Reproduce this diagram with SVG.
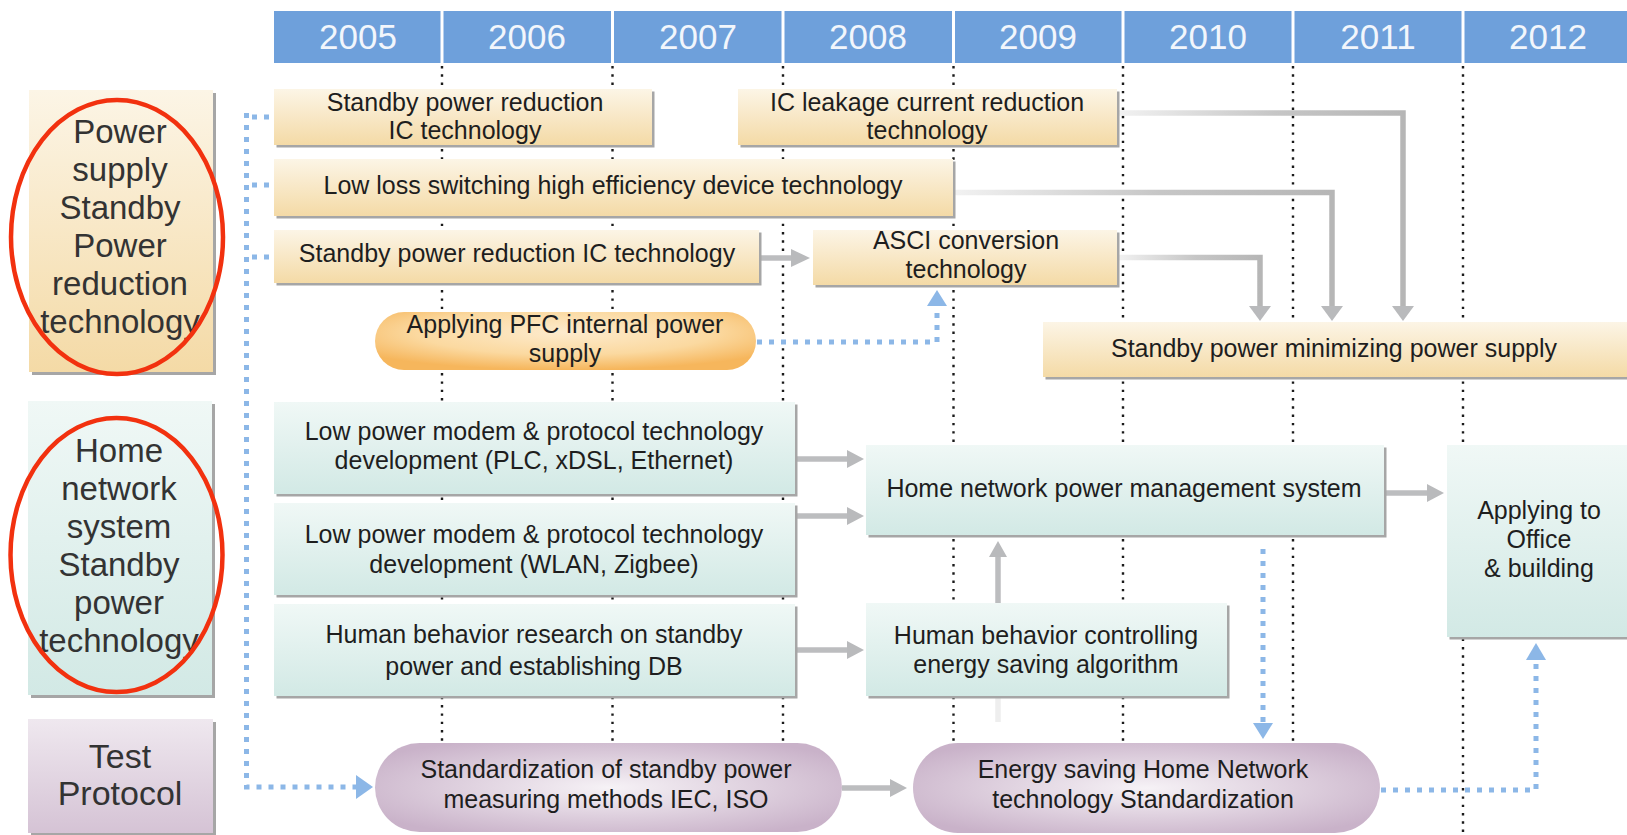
<svg xmlns="http://www.w3.org/2000/svg" width="1627" height="835" viewBox="0 0 1627 835">
<defs>
<linearGradient id="gCream" x1="0" y1="0" x2="0" y2="1"><stop offset="0" stop-color="#fcf5e6"/><stop offset="1" stop-color="#f4daa6"/></linearGradient>
<linearGradient id="gMint" x1="0" y1="0" x2="0" y2="1"><stop offset="0" stop-color="#f0f8f6"/><stop offset="1" stop-color="#d2e9e5"/></linearGradient>
<linearGradient id="gLav" x1="0" y1="0" x2="0" y2="1"><stop offset="0" stop-color="#efe8ef"/><stop offset="1" stop-color="#d5c3d5"/></linearGradient>
<radialGradient id="gPurple" cx="0.5" cy="0.5" r="0.6"><stop offset="0" stop-color="#f6f2f6"/><stop offset="1" stop-color="#c9b2c9"/></radialGradient>
<radialGradient id="gOrange" cx="0.5" cy="0.35" r="0.65"><stop offset="0" stop-color="#fdebcd"/><stop offset="0.6" stop-color="#fbd9a0"/><stop offset="1" stop-color="#f6b65c"/></radialGradient>
<linearGradient id="gFade" x1="0" y1="0" x2="1" y2="0"><stop offset="0" stop-color="#f2f2f2"/><stop offset="0.55" stop-color="#c6c6c6"/><stop offset="1" stop-color="#b6b6b6"/></linearGradient>
</defs>
<style>
.hdr{fill:#6ea0db}
.yr{font-family:"Liberation Sans",Arial,sans-serif;font-size:35px;fill:#f2f6fc;text-anchor:middle}
.vd{stroke:#1a1a1a;stroke-width:2.4;stroke-dasharray:2.4 5.9;fill:none}
.sh{fill:#a6a6a6}
.cream{fill:url(#gCream)}
.mint{fill:url(#gMint)}
.lav{fill:url(#gLav)}
.pur{fill:url(#gPurple)}
.org{fill:url(#gOrange)}
.t{font-family:"Liberation Sans",Arial,sans-serif;font-size:25px;fill:#1e1e1e;text-anchor:middle}
.cat{font-family:"Liberation Sans",Arial,sans-serif;font-size:33px;fill:#333;text-anchor:middle}
.ring{fill:none;stroke:#f2310f;stroke-width:4.5}
.ga{stroke:#bcbdbf;stroke-width:5.5;fill:none}
.gf{stroke:url(#gFade);stroke-width:5.5;fill:none}
.gh{fill:#b9babc}
.bd{stroke:#8cb7e7;stroke-width:5;stroke-dasharray:5 7;fill:none}
.bh{fill:#8cb7e7}
</style>
<rect width="1627" height="835" fill="#ffffff"/>
<g id="header">
<rect class="hdr" x="274" y="11" width="166.5" height="52"/>
<rect class="hdr" x="443.5" y="11" width="167.5" height="52"/>
<rect class="hdr" x="614" y="11" width="167.5" height="52"/>
<rect class="hdr" x="784.5" y="11" width="167.5" height="52"/>
<rect class="hdr" x="955" y="11" width="166.5" height="52"/>
<rect class="hdr" x="1124.5" y="11" width="167" height="52"/>
<rect class="hdr" x="1294.5" y="11" width="167" height="52"/>
<rect class="hdr" x="1464.5" y="11" width="163" height="52"/>
<text class="yr" x="358" y="49">2005</text>
<text class="yr" x="527" y="49">2006</text>
<text class="yr" x="698" y="49">2007</text>
<text class="yr" x="868" y="49">2008</text>
<text class="yr" x="1038" y="49">2009</text>
<text class="yr" x="1208" y="49">2010</text>
<text class="yr" x="1378" y="49">2011</text>
<text class="yr" x="1548" y="49">2012</text>
</g>
<g id="gridlines">
<path class="vd" d="M442,66V835M612.5,66V835M783,66V835M953.5,66V835M1123,66V835M1293,66V835M1463,66V835"/>
</g>
<g id="cat-power">
<rect class="sh" x="32" y="93" width="184" height="282"/>
<rect class="cream" x="29" y="90" width="184" height="282"/>
<text class="cat" x="120" y="143">Power</text>
<text class="cat" x="120" y="181">supply</text>
<text class="cat" x="120" y="219">Standby</text>
<text class="cat" x="120" y="257">Power</text>
<text class="cat" x="120" y="295">reduction</text>
<text class="cat" x="120" y="333">technology</text>
</g>
<g id="cat-home">
<rect class="sh" x="31" y="404" width="184" height="294"/>
<rect class="mint" x="28" y="401" width="184" height="294"/>
<text class="cat" x="119" y="462">Home</text>
<text class="cat" x="119" y="500">network</text>
<text class="cat" x="119" y="538">system</text>
<text class="cat" x="119" y="576">Standby</text>
<text class="cat" x="119" y="614">power</text>
<text class="cat" x="119" y="652">technology</text>
</g>
<g id="cat-test">
<rect class="sh" x="31" y="722" width="185" height="113"/>
<rect class="lav" x="28" y="719" width="185" height="114"/>
<text class="cat" x="120" y="768" style="font-size:34px">Test</text>
<text class="cat" x="120" y="805" style="font-size:34px">Protocol</text>
</g>
<g id="rings">
<ellipse class="ring" cx="117" cy="237" rx="106" ry="137"/>
<ellipse class="ring" cx="116.5" cy="555" rx="106" ry="137"/>
</g>
<g id="connectors">
<path class="gf" d="M1117,113H1403V307"/>
<polygon class="gh" points="1392,306 1414,306 1403,321"/>
<path class="gf" d="M953,192.5H1332V307"/>
<polygon class="gh" points="1321,306 1343,306 1332,321"/>
<path class="gf" d="M1117,257.5H1260V307"/>
<polygon class="gh" points="1249,306 1271,306 1260,321"/>
<path class="ga" d="M759,258H792"/>
<polygon class="gh" points="791,249 791,267 810,258"/>
<path class="ga" d="M796,459H848"/>
<polygon class="gh" points="847,450 847,468 864,459"/>
<path class="ga" d="M796,516H848"/>
<polygon class="gh" points="847,507 847,525 864,516"/>
<path class="ga" d="M796,650H848"/>
<polygon class="gh" points="847,641 847,659 864,650"/>
<path class="ga" d="M1384,493H1428"/>
<polygon class="gh" points="1427,484 1427,502 1444,493"/>
<path class="ga" d="M842,788H891"/>
<polygon class="gh" points="890,779 890,797 907,788"/>
<path class="ga" d="M998,603V556"/>
<polygon class="gh" points="989,557 1007,557 998,541"/>
<path d="M998,698V722" stroke="#eeeeee" stroke-width="5.5" fill="none"/>
<path class="bd" d="M246.5,113V787H357"/>
<path class="bd" d="M252,117H273M252,185H273M252,257H273"/>
<polygon class="bh" points="356,775 356,799 373,787"/>
<path class="bd" d="M757,342H937V306"/>
<polygon class="bh" points="927,306 947,306 937,290"/>
<path class="bd" d="M1263,549V724"/>
<polygon class="bh" points="1253,723 1273,723 1263,739"/>
<path class="bd" d="M1381,790H1536V660"/>
<polygon class="bh" points="1526,660 1546,660 1536,643"/>
</g>
<g id="n-sprIC2">
<rect class="sh" x="276.5" y="91.5" width="378" height="56"/>
<rect class="cream" x="274" y="89" width="378" height="56"/>
<text class="t" x="465" y="110.5">Standby power reduction</text>
<text class="t" x="465" y="139">IC technology</text>
</g>
<g id="n-leak">
<rect class="sh" x="740.5" y="91.5" width="379" height="56"/>
<rect class="cream" x="738" y="89" width="379" height="56"/>
<text class="t" x="927" y="110.5">IC leakage current reduction</text>
<text class="t" x="927" y="139">technology</text>
</g>
<g id="n-lowloss">
<rect class="sh" x="276.5" y="161.5" width="679" height="57"/>
<rect class="cream" x="274" y="159" width="679" height="57"/>
<text class="t" x="613" y="194">Low loss switching high efficiency device technology</text>
</g>
<g id="n-sprIC1">
<rect class="sh" x="276.5" y="232.5" width="485" height="53"/>
<rect class="cream" x="274" y="230" width="485" height="53"/>
<text class="t" x="517" y="262">Standby power reduction IC technology</text>
</g>
<g id="n-asci">
<rect class="sh" x="815.5" y="232.5" width="304" height="55"/>
<rect class="cream" x="813" y="230" width="304" height="55"/>
<text class="t" x="966" y="249">ASCI conversion</text>
<text class="t" x="966" y="277.5">technology</text>
</g>
<g id="n-pfc">
<rect class="org" x="375" y="312" width="381" height="58" rx="29"/>
<text class="t" x="565" y="333">Applying PFC internal power</text>
<text class="t" x="565" y="361.5">supply</text>
</g>
<g id="n-minps">
<rect class="sh" x="1045.5" y="324.5" width="590" height="55"/>
<rect class="cream" x="1043" y="322" width="590" height="55"/>
<text class="t" x="1334" y="357">Standby power minimizing power supply</text>
</g>
<g id="n-modem1">
<rect class="sh" x="276.5" y="404.5" width="521" height="92"/>
<rect class="mint" x="274" y="402" width="521" height="92"/>
<text class="t" x="534" y="440">Low power modem &amp; protocol technology</text>
<text class="t" x="534" y="468.5">development (PLC, xDSL, Ethernet)</text>
</g>
<g id="n-modem2">
<rect class="sh" x="276.5" y="505.5" width="521" height="92"/>
<rect class="mint" x="274" y="503" width="521" height="92"/>
<text class="t" x="534" y="543">Low power modem &amp; protocol technology</text>
<text class="t" x="534" y="573">development (WLAN, Zigbee)</text>
</g>
<g id="n-human">
<rect class="sh" x="276.5" y="606.5" width="521" height="92"/>
<rect class="mint" x="274" y="604" width="521" height="92"/>
<text class="t" x="534" y="643">Human behavior research on standby</text>
<text class="t" x="534" y="675">power and establishing DB</text>
</g>
<g id="n-hnpms">
<rect class="sh" x="868.5" y="447.5" width="518" height="90"/>
<rect class="mint" x="866" y="445" width="518" height="90"/>
<text class="t" x="1124" y="497">Home network power management system</text>
</g>
<g id="n-hbc">
<rect class="sh" x="868.5" y="605.5" width="361" height="93"/>
<rect class="mint" x="866" y="603" width="361" height="93"/>
<text class="t" x="1046" y="644">Human behavior controlling</text>
<text class="t" x="1046" y="673">energy saving algorithm</text>
</g>
<g id="n-office">
<rect class="sh" x="1449.5" y="447.5" width="185" height="192"/>
<rect class="mint" x="1447" y="445" width="185" height="192"/>
<text class="t" x="1539" y="519">Applying to</text>
<text class="t" x="1539" y="548">Office</text>
<text class="t" x="1539" y="577">&amp; building</text>
</g>
<g id="n-stdmeas">
<rect class="pur" x="375" y="743" width="467" height="89" rx="44.5"/>
<text class="t" x="606" y="778">Standardization of standby power</text>
<text class="t" x="606" y="808">measuring methods IEC, ISO</text>
</g>
<g id="n-stdhn">
<rect class="pur" x="913" y="743" width="467" height="90" rx="45"/>
<text class="t" x="1143" y="778">Energy saving Home Network</text>
<text class="t" x="1143" y="808">technology Standardization</text>
</g>
</svg>
